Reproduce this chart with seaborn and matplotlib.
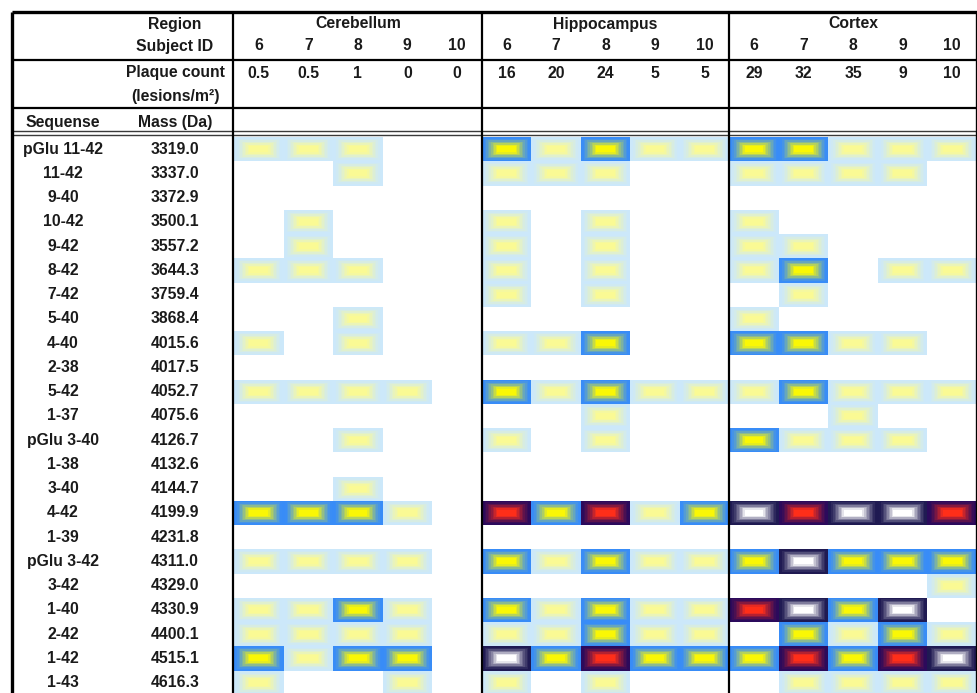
import numpy as np
import matplotlib
matplotlib.use("Agg")
import matplotlib.pyplot as plt
from matplotlib.colors import ListedColormap
import seaborn as sns

# ---------------------------------------------------------------- data
regions = ["Cerebellum", "Hippocampus", "Cortex"]
subject_ids = ["6", "7", "8", "9", "10"]
plaque_cerebellum = ["0.5", "0.5", "1", "0", "0"]
plaque_hippocampus = ["16", "20", "24", "5", "5"]
plaque_cortex = ["29", "32", "35", "9", "10"]

sequences = ["pGlu 11-42", "11-42", "9-40", "10-42", "9-42", "8-42", "7-42",
             "5-40", "4-40", "2-38", "5-42", "1-37", "pGlu 3-40", "1-38",
             "3-40", "4-42", "1-39", "pGlu 3-42", "3-42", "1-40", "2-42",
             "1-42", "1-43"]
masses = ["3319.0", "3337.0", "3372.9", "3500.1", "3557.2", "3644.3", "3759.4",
          "3868.4", "4015.6", "4017.5", "4052.7", "4075.6", "4126.7", "4132.6",
          "4144.7", "4199.9", "4231.8", "4311.0", "4329.0", "4330.9", "4400.1",
          "4515.1", "4616.3"]

# signal level per peptide (rows) and subject (cols 6..10); 0 = not detected
cerebellum_levels = [
    [1, 1, 1, 0, 0], [0, 0, 1, 0, 0], [0, 0, 0, 0, 0], [0, 1, 0, 0, 0],
    [0, 1, 0, 0, 0], [1, 1, 1, 0, 0], [0, 0, 0, 0, 0], [0, 0, 1, 0, 0],
    [1, 0, 1, 0, 0], [0, 0, 0, 0, 0], [1, 1, 1, 1, 0], [0, 0, 0, 0, 0],
    [0, 0, 1, 0, 0], [0, 0, 0, 0, 0], [0, 0, 1, 0, 0], [2, 2, 2, 1, 0],
    [0, 0, 0, 0, 0], [1, 1, 1, 1, 0], [0, 0, 0, 0, 0], [1, 1, 2, 1, 0],
    [1, 1, 1, 1, 0], [2, 1, 2, 2, 0], [1, 0, 0, 1, 0],
]
hippocampus_levels = [
    [2, 1, 2, 1, 1], [1, 1, 1, 0, 0], [0, 0, 0, 0, 0], [1, 0, 1, 0, 0],
    [1, 0, 1, 0, 0], [1, 0, 1, 0, 0], [1, 0, 1, 0, 0], [0, 0, 0, 0, 0],
    [1, 1, 2, 0, 0], [0, 0, 0, 0, 0], [2, 1, 2, 1, 1], [0, 0, 1, 0, 0],
    [1, 0, 1, 0, 0], [0, 0, 0, 0, 0], [0, 0, 0, 0, 0], [3, 2, 3, 1, 2],
    [0, 0, 0, 0, 0], [2, 1, 2, 1, 1], [0, 0, 0, 0, 0], [2, 1, 2, 1, 1],
    [1, 1, 2, 1, 1], [4, 2, 3, 2, 2], [1, 0, 1, 0, 0],
]
cortex_levels = [
    [2, 2, 1, 1, 1], [1, 1, 1, 1, 0], [0, 0, 0, 0, 0], [1, 0, 0, 0, 0],
    [1, 1, 0, 0, 0], [1, 2, 0, 1, 1], [0, 1, 0, 0, 0], [1, 0, 0, 0, 0],
    [2, 2, 1, 1, 0], [0, 0, 0, 0, 0], [1, 2, 1, 1, 1], [0, 0, 1, 0, 0],
    [2, 1, 1, 1, 0], [0, 0, 0, 0, 0], [0, 0, 0, 0, 0], [4, 3, 4, 4, 3],
    [0, 0, 0, 0, 0], [2, 4, 2, 2, 2], [0, 0, 0, 0, 1], [3, 4, 2, 4, 0],
    [0, 2, 1, 2, 1], [2, 3, 2, 3, 4], [0, 1, 1, 1, 1],
]

# ---------------------------------------------------------------- style
sns.set_theme(style="white")
plt.rcParams["font.family"] = ["Liberation Sans", "DejaVu Sans"]
TXT = "#1a1a1a"
FS = 11.3

W, H = 978, 693
fig = plt.figure(figsize=(W / 100, H / 100), dpi=100)

# table geometry (pixels)
x_left, x_right = 12, 977
x_cells0 = 234
row_top, row_h = 137, 24.25
n_rows = len(sequences)
cell_w = (x_right - x_cells0) / 15

# ---------------------------------------------------------------- glow colormap
# each level maps onto its own band: outer edge colour -> centre colour
outer = {1: (0.80, 0.91, 0.98), 2: (0.22, 0.55, 0.97),
         3: (0.17, 0.04, 0.36), 4: (0.12, 0.10, 0.32)}
inner = {1: (0.98, 0.98, 0.58), 2: (0.98, 0.97, 0.02),
         3: (1.00, 0.18, 0.10), 4: (1.00, 1.00, 1.00)}
N = 256
colors = [(1, 1, 1)] * N
for lv in range(1, 5):
    o, c = np.array(outer[lv]), np.array(inner[lv])
    for k in range(N):
        f = k / (N - 1)
        colors.append(tuple(o + (c - o) * f))
glow = ListedColormap(colors)

levels = np.hstack([np.array(cerebellum_levels),
                    np.array(hippocampus_levels),
                    np.array(cortex_levels)]).astype(float)

# within-cell rectangular gradient, soft towards the centre
sy, sx = 16, 32
u = (np.arange(sx) + 0.5) / sx
v = (np.arange(sy) + 0.5) / sy
ex = (0.5 - np.abs(u - 0.5)) * cell_w / 16.0
ey = (0.5 - np.abs(v - 0.5)) * row_h / 9.0
e = np.minimum(ex[None, :], ey[:, None])
t = np.clip((e - 0.12) / 0.88, 0, 1) ** 1.35
fine = np.kron(levels, np.ones((sy, sx))) + np.tile(t, levels.shape) * 0.998

hm_bottom = H - (row_top + n_rows * row_h)
ax_hm = fig.add_axes([x_cells0 / W, hm_bottom / H,
                      (x_right - x_cells0) / W, n_rows * row_h / H])
sns.heatmap(fine, ax=ax_hm, cmap=glow, vmin=0, vmax=5, cbar=False,
            xticklabels=False, yticklabels=False)
ax_hm.tick_params(length=0)

# ---------------------------------------------------------------- table frame and text
ax = fig.add_axes([0, 0, 1, 1], facecolor="none")
ax.set_xlim(0, W)
ax.set_ylim(H, 0)
ax.set_axis_off()

def hline(y, lw=1.6, color="black"):
    ax.plot([x_left, x_right], [y, y], color=color, lw=lw, solid_capstyle="butt")

def vline(x, y0=12, y1=H + 5, lw=1.6, color="black"):
    ax.plot([x, x], [y0, y1], color=color, lw=lw, solid_capstyle="butt")

hline(12, lw=2.4)
hline(60)
hline(108)
hline(131, lw=1.0, color="#3a3a3a")
hline(134.5, lw=1.0, color="#3a3a3a")
vline(x_left, lw=2.4)
vline(x_right, lw=2.4)
vline(233)
block_edges = [x_cells0 + 5 * cell_w, x_cells0 + 10 * cell_w]
for bx in block_edges:
    vline(bx)

tk = dict(color=TXT, fontsize=FS, fontweight="bold", ha="center", va="center")
ax.text(175, 24, "Region", **tk)
ax.text(175, 46, "Subject ID", **tk)
ax.text(175, 73, "Plaque count", **tk)
ax.text(175, 97, "(lesions/m²)", **tk)
ax.text(63, 122, "Sequense", **tk)
ax.text(175, 122, "Mass (Da)", **tk)

plaques = [plaque_cerebellum, plaque_hippocampus, plaque_cortex]
for r, name in enumerate(regions):
    x0 = x_cells0 + r * 5 * cell_w
    ax.text(x0 + 2.5 * cell_w, 24, name, **tk)
    for j in range(5):
        cx = x0 + (j + 0.5) * cell_w
        ax.text(cx, 46, subject_ids[j], **tk)
        ax.text(cx, 73, plaques[r][j], **tk)

for i, (s, m) in enumerate(zip(sequences, masses)):
    y = row_top + (i + 0.5) * row_h
    ax.text(63, y, s, **tk)
    ax.text(175, y, m, **tk)

fig.savefig("out.png", dpi=100)
